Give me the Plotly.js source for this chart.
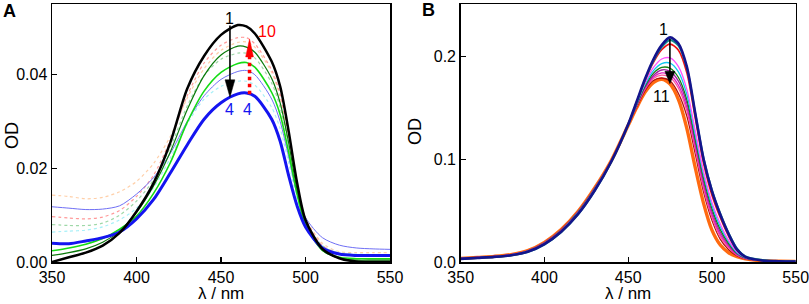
<!DOCTYPE html>
<html>
<head>
<meta charset="utf-8">
<script src="https://cdn.plot.ly/plotly-3.0.1.min.js"></script>
<style>html,body{margin:0;padding:0;background:#fff}#chart{width:809px;height:304px}</style>
</head>
<body>
<div id="chart"></div>
<script>
// ---------- Panel A data ----------
const wlA = [350,360,370,380,390,400,410,420,430,440,450,460,465,470,480,485,490,495,500,510,520,530,540,550];
const a1_black   = [0.0000,0.0010,0.0020,0.0035,0.0062,0.0108,0.0168,0.0255,0.0370,0.0440,0.0485,0.0506,0.0503,0.0488,0.0428,0.0375,0.0280,0.0170,0.0090,0.0028,0.0008,0.0001,0.0000,0.0000];
const a2_dkgreen = [0.0014,0.0020,0.0028,0.0042,0.0066,0.0106,0.0162,0.0235,0.0325,0.0398,0.0442,0.0461,0.0459,0.0448,0.0392,0.0340,0.0255,0.0155,0.0085,0.0025,0.0008,0.0004,0.0004,0.0004];
const a3_green   = [0.0024,0.0030,0.0038,0.0050,0.0070,0.0098,0.0146,0.0212,0.0298,0.0365,0.0405,0.0424,0.0426,0.0416,0.0362,0.0315,0.0235,0.0145,0.0080,0.0025,0.0010,0.0007,0.0007,0.0007];
const a4_blue    = [0.0040,0.0039,0.0045,0.0052,0.0064,0.0092,0.0133,0.0190,0.0250,0.0305,0.0340,0.0359,0.0361,0.0354,0.0305,0.0258,0.0185,0.0120,0.0075,0.0030,0.0017,0.0014,0.0014,0.0014];
const a5_cyan    = [0.0064,0.0066,0.0068,0.0075,0.0090,0.0115,0.0158,0.0222,0.0295,0.0348,0.0375,0.0386,0.0386,0.0378,0.0330,0.0285,0.0212,0.0135,0.0085,0.0035,0.0020,0.0017,0.0016,0.0016];
const a6_bluethin= [0.0118,0.0115,0.0112,0.0113,0.0120,0.0145,0.0180,0.0232,0.0300,0.0355,0.0390,0.0407,0.0409,0.0400,0.0348,0.0300,0.0225,0.0145,0.0095,0.0052,0.0036,0.0030,0.0028,0.0027];
const a7_ltgreen = [0.0080,0.0078,0.0078,0.0083,0.0100,0.0130,0.0175,0.0245,0.0333,0.0398,0.0433,0.0446,0.0446,0.0436,0.0382,0.0330,0.0250,0.0158,0.0090,0.0035,0.0018,0.0015,0.0015,0.0015];
const a8_pink    = [0.0097,0.0094,0.0092,0.0096,0.0110,0.0140,0.0185,0.0260,0.0355,0.0425,0.0463,0.0479,0.0479,0.0466,0.0410,0.0358,0.0268,0.0168,0.0092,0.0035,0.0018,0.0015,0.0015,0.0015];
const a9_peach   = [0.0143,0.0140,0.0135,0.0138,0.0150,0.0172,0.0210,0.0268,0.0350,0.0413,0.0452,0.0469,0.0470,0.0459,0.0405,0.0352,0.0264,0.0166,0.0095,0.0040,0.0022,0.0020,0.0020,0.0020];

// ---------- Panel B data ----------
const wlB = [350,360,370,380,390,400,410,420,430,440,450,455,460,465,470,475,480,485,490,495,500,505,510,515,520,530,540,550];
const b01_navy   = [0.0030,0.0040,0.0050,0.0065,0.0100,0.0175,0.0295,0.0465,0.0695,0.0980,0.1340,0.1560,0.1780,0.1970,0.2110,0.2185,0.2125,0.1900,0.1450,0.1000,0.0690,0.0460,0.0270,0.0120,0.0050,0.0015,0.0008,0.0005];
const b02_teal   = [0.0028,0.0038,0.0048,0.0062,0.0097,0.0170,0.0290,0.0460,0.0690,0.0975,0.1335,0.1550,0.1770,0.1955,0.2090,0.2160,0.2105,0.1890,0.1450,0.1010,0.0700,0.0470,0.0280,0.0130,0.0055,0.0020,0.0008,0.0005];
const b03_red    = [0.0031,0.0041,0.0051,0.0067,0.0103,0.0180,0.0302,0.0472,0.0702,0.0982,0.1340,0.1555,0.1765,0.1940,0.2065,0.2120,0.2060,0.1840,0.1400,0.0960,0.0650,0.0430,0.0250,0.0115,0.0050,0.0015,0.0008,0.0005];
const b04_violet = [0.0032,0.0042,0.0052,0.0068,0.0104,0.0182,0.0305,0.0476,0.0707,0.0984,0.1340,0.1545,0.1740,0.1890,0.1975,0.1985,0.1900,0.1680,0.1280,0.0880,0.0580,0.0370,0.0210,0.0100,0.0045,0.0015,0.0008,0.0005];
const b05_cyan   = [0.0032,0.0042,0.0052,0.0069,0.0105,0.0184,0.0307,0.0479,0.0710,0.0985,0.1338,0.1540,0.1725,0.1860,0.1930,0.1935,0.1850,0.1630,0.1240,0.0850,0.0550,0.0340,0.0195,0.0090,0.0042,0.0014,0.0008,0.0005];
const b06_green  = [0.0033,0.0043,0.0053,0.0069,0.0106,0.0185,0.0309,0.0482,0.0713,0.0986,0.1336,0.1530,0.1710,0.1835,0.1893,0.1885,0.1795,0.1580,0.1200,0.0815,0.0520,0.0315,0.0180,0.0085,0.0040,0.0014,0.0008,0.0005];
const b07_purple = [0.0033,0.0043,0.0053,0.0070,0.0107,0.0186,0.0310,0.0484,0.0715,0.0987,0.1335,0.1525,0.1700,0.1815,0.1868,0.1855,0.1760,0.1545,0.1170,0.0780,0.0490,0.0290,0.0165,0.0078,0.0037,0.0013,0.0008,0.0005];
const b08_magenta= [0.0034,0.0044,0.0054,0.0070,0.0108,0.0187,0.0311,0.0486,0.0716,0.0988,0.1333,0.1520,0.1690,0.1800,0.1840,0.1820,0.1720,0.1505,0.1130,0.0745,0.0460,0.0265,0.0150,0.0072,0.0035,0.0013,0.0008,0.0005];
const b09_pink   = [0.0034,0.0044,0.0054,0.0071,0.0108,0.0188,0.0312,0.0487,0.0717,0.0989,0.1332,0.1515,0.1680,0.1785,0.1818,0.1795,0.1690,0.1470,0.1100,0.0715,0.0435,0.0245,0.0138,0.0067,0.0033,0.0013,0.0008,0.0005];
const b10_dkred  = [0.0035,0.0045,0.0055,0.0071,0.0109,0.0189,0.0314,0.0489,0.0719,0.0990,0.1331,0.1505,0.1665,0.1765,0.1790,0.1760,0.1640,0.1420,0.1055,0.0680,0.0405,0.0220,0.0120,0.0060,0.0031,0.0012,0.0008,0.0005];
const b11_orange = [0.0035,0.0045,0.0055,0.0072,0.0110,0.0190,0.0315,0.0490,0.0720,0.0990,0.1330,0.1500,0.1650,0.1745,0.1778,0.1730,0.1580,0.1300,0.0920,0.0570,0.0310,0.0165,0.0090,0.0052,0.0030,0.0012,0.0008,0.0005];

const tickA = [350,400,450,500,550];
const ytickA = [0,0.02,0.04];
const ytickB = [0,0.1,0.2];

function tr(x, y, color, width, dash, xa, ya) {
  return {x: x, y: y, type: 'scatter', mode: 'lines', xaxis: xa, yaxis: ya,
    line: {color: color, width: width, dash: dash || 'solid', shape: 'spline', smoothing: 0.8},
    hoverinfo: 'skip'};
}

const data = [
  tr(wlA, a9_peach,   '#ffcfa8', 1.2, 'dot', 'x', 'y'),
  tr(wlA, a7_ltgreen, '#9fd8a8', 1.2, 'dot', 'x', 'y'),
  tr(wlA, a5_cyan,    '#a8f0f8', 1.2, 'dot', 'x', 'y'),
  tr(wlA, a8_pink,    '#ff9a9a', 1.2, 'dot', 'x', 'y'),
  tr(wlA, a6_bluethin,'#6f6ff5', 1.0, 'solid', 'x', 'y'),
  tr(wlA, a3_green,   '#14dc14', 1.6, 'solid', 'x', 'y'),
  tr(wlA, a2_dkgreen, '#0b7a0b', 1.2, 'solid', 'x', 'y'),
  tr(wlA, a4_blue,    '#1414f0', 3.0, 'solid', 'x', 'y'),
  tr(wlA, a1_black,   '#000000', 2.5, 'solid', 'x', 'y'),

  tr(wlB, b11_orange, '#ff6a10', 3.4, 'solid', 'x2', 'y2'),
  tr(wlB, b10_dkred,  '#b01010', 1.3, 'solid', 'x2', 'y2'),
  tr(wlB, b09_pink,   '#ff5a9a', 1.3, 'solid', 'x2', 'y2'),
  tr(wlB, b08_magenta,'#e020c0', 1.3, 'solid', 'x2', 'y2'),
  tr(wlB, b07_purple, '#a020a0', 1.3, 'solid', 'x2', 'y2'),
  tr(wlB, b06_green,  '#108010', 1.3, 'solid', 'x2', 'y2'),
  tr(wlB, b05_cyan,   '#10c8f0', 1.3, 'solid', 'x2', 'y2'),
  tr(wlB, b04_violet, '#ff50ff', 1.3, 'solid', 'x2', 'y2'),
  tr(wlB, b03_red,    '#f01010', 1.6, 'solid', 'x2', 'y2'),
  tr(wlB, b02_teal,   '#108a8a', 2.0, 'solid', 'x2', 'y2'),
  tr(wlB, b01_navy,   '#14148c', 2.6, 'solid', 'x2', 'y2')
];

const FONT = 'Arial, "Liberation Sans", sans-serif';
const axBase = {
  showline: true, mirror: true, linecolor: '#000', linewidth: 1.5,
  ticks: 'inside', ticklen: 5, tickwidth: 1.2, tickcolor: '#000',
  showgrid: false, zeroline: false, automargin: false, ticklabeloverflow: 'allow',
  tickfont: {family: FONT, size: 16, color: '#000'}
};

const yTop = 1 - 4/304, yBot = 1 - 262/304;
const layout = {
  width: 809, height: 304,
  margin: {l: 0, r: 0, t: 0, b: 0},
  paper_bgcolor: '#fff', plot_bgcolor: '#fff',
  showlegend: false,
  font: {family: FONT, color: '#000'},
  xaxis: Object.assign({}, axBase, {domain: [52/809, 390/809], range: [350, 550], tickvals: tickA, anchor: 'y'}),
  yaxis: Object.assign({}, axBase, {domain: [yBot, yTop], range: [0, 0.0551], tickvals: ytickA, tickformat: '.2f', anchor: 'x'}),
  xaxis2: Object.assign({}, axBase, {domain: [460.7/809, 795.7/809], range: [350, 550], tickvals: tickA, anchor: 'y2'}),
  yaxis2: Object.assign({}, axBase, {domain: [yBot, yTop], range: [0, 0.251], tickvals: ytickB, tickformat: '.1f', anchor: 'x2'}),
  shapes: [
    // panel A red dotted arrow (shaft + head)
    {type: 'line', xref: 'x', yref: 'y', x0: 466.9, x1: 466.9, y0: 0.0358, y1: 0.0440,
     line: {color: '#ff0000', width: 3.5, dash: 'dot'}},
    {type: 'path', xref: 'x', yref: 'y', path: 'M 464.6 0.0438 L 469.2 0.0438 L 466.9 0.0476 Z',
     fillcolor: '#ff0000', line: {color: '#ff0000', width: 0.5}},
    // panel A black arrow
    {type: 'line', xref: 'x', yref: 'y', x0: 455.3, x1: 455.3, y0: 0.0505, y1: 0.0385,
     line: {color: '#000', width: 1.6}},
    {type: 'path', xref: 'x', yref: 'y', path: 'M 452.4 0.0389 L 458.2 0.0389 L 455.3 0.0352 Z',
     fillcolor: '#000', line: {color: '#000', width: 0.5}},
    // panel B black arrow
    {type: 'line', xref: 'x2', yref: 'y2', x0: 474.9, x1: 474.9, y0: 0.217, y1: 0.184,
     line: {color: '#000', width: 1.6}},
    {type: 'path', xref: 'x2', yref: 'y2', path: 'M 471.9 0.1855 L 477.9 0.1855 L 474.9 0.1735 Z',
     fillcolor: '#000', line: {color: '#000', width: 0.5}}
  ],
  annotations: [
    {xref: 'paper', yref: 'paper', x: 9/809, y: 1 - 11/304, text: '<b>A</b>', showarrow: false, font: {size: 18, family: FONT}, xanchor: 'center', yanchor: 'middle'},
    {xref: 'paper', yref: 'paper', x: 428/809, y: 1 - 10/304, text: '<b>B</b>', showarrow: false, font: {size: 18, family: FONT}, xanchor: 'center', yanchor: 'middle'},
    {xref: 'paper', yref: 'paper', x: 12/809, y: 1 - 136/304, text: 'OD', textangle: -90, showarrow: false, font: {size: 18, family: FONT}, xanchor: 'center', yanchor: 'middle'},
    {xref: 'paper', yref: 'paper', x: 415/809, y: 1 - 131/304, text: 'OD', textangle: -90, showarrow: false, font: {size: 18, family: FONT}, xanchor: 'center', yanchor: 'middle'},
    {xref: 'paper', yref: 'paper', x: 221/809, y: 0, text: 'λ / nm', showarrow: false, font: {size: 17, family: FONT}, xanchor: 'center', yanchor: 'bottom', borderpad: 0},
    {xref: 'paper', yref: 'paper', x: 628/809, y: 0, text: 'λ / nm', showarrow: false, font: {size: 17, family: FONT}, xanchor: 'center', yanchor: 'bottom', borderpad: 0},
    // panel A labels
    {xref: 'x', yref: 'y', x: 455.3, y: 0.0520, text: '1', showarrow: false, font: {size: 16, color: '#000'}},
    {xref: 'x', yref: 'y', x: 455.3, y: 0.0325, text: '4', showarrow: false, font: {size: 16, color: '#1414f0'}},
    {xref: 'x', yref: 'y', x: 465.6, y: 0.0325, text: '4', showarrow: false, font: {size: 16, color: '#1414f0'}},
    {xref: 'x', yref: 'y', x: 477.0, y: 0.0492, text: '10', showarrow: false, font: {size: 16, color: '#ff0000'}},
    // panel B labels
    {xref: 'x2', yref: 'y2', x: 470.8, y: 0.226, text: '1', showarrow: false, font: {size: 16, color: '#000'}},
    {xref: 'x2', yref: 'y2', x: 469.9, y: 0.161, text: '11', showarrow: false, font: {size: 16, color: '#000'}}
  ]
};

Plotly.newPlot('chart', data, layout, {staticPlot: true, displayModeBar: false});
</script>
</body>
</html>
